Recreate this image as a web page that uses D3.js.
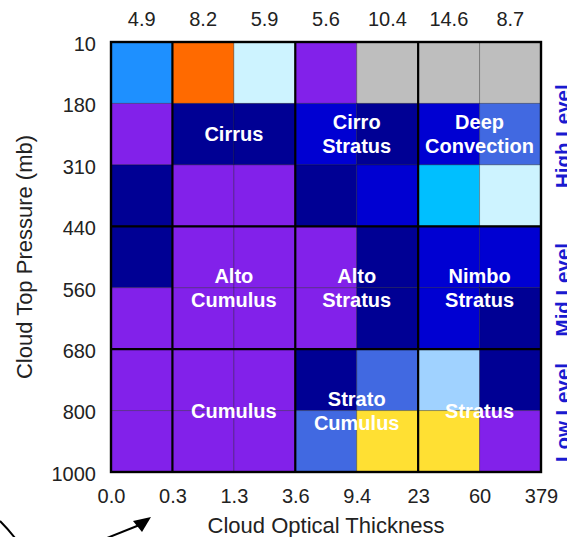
<!DOCTYPE html>
<html>
<head>
<meta charset="utf-8">
<script src="https://cdn.jsdelivr.net/npm/d3@7"></script>
<style>
  html, body { margin: 0; padding: 0; background: #fff; }
  svg { display: block; }
  text { font-family: "Liberation Sans", Arial, Helvetica, sans-serif; }
</style>
</head>
<body>
<svg id="chart" width="567" height="537"></svg>
<script>
// Optical-thickness bin edges (x) and cloud-top-pressure bin edges in mb (y)
const tauEdges = ["0.0", "0.3", "1.3", "3.6", "9.4", "23", "60", "379"];
const pressureEdges = ["10", "180", "310", "440", "560", "680", "800", "1000"];

// Column totals printed above each optical-thickness bin
const columnTotals = [4.9, 8.2, 5.9, 5.6, 10.4, 14.6, 8.7];

// Frequency class of every cell, rows from 10 mb down to 1000 mb
// 0 no data, 1..10 increasing frequency classes
const cellClass = [
  [5, 10, 8, 1, 0, 0, 0],
  [1, 2, 2, 3, 2, 3, 4],
  [2, 1, 1, 2, 3, 6, 8],
  [2, 1, 1, 1, 2, 3, 3],
  [1, 1, 1, 1, 2, 3, 2],
  [1, 1, 1, 2, 4, 7, 2],
  [1, 1, 1, 4, 9, 9, 1]
];
const classKeys = [0, 1, 2, 3, 4, 5, 6, 7, 8, 9, 10];

// Cloud type names, anchored on a tau edge and a pressure span
const cloudTypes = [
  { lines: ["Cirrus"],             tau: "1.3", p0: "180", p1: "310" },
  { lines: ["Cirro", "Stratus"],   tau: "9.4", p0: "180", p1: "310" },
  { lines: ["Deep", "Convection"], tau: "60",  p0: "180", p1: "310" },
  { lines: ["Alto", "Cumulus"],    tau: "1.3", p0: "560", p1: "560" },
  { lines: ["Alto", "Stratus"],    tau: "9.4", p0: "560", p1: "560" },
  { lines: ["Nimbo", "Stratus"],   tau: "60",  p0: "560", p1: "560" },
  { lines: ["Cumulus"],            tau: "1.3", p0: "800", p1: "800" },
  { lines: ["Strato", "Cumulus"],  tau: "9.4", p0: "800", p1: "800" },
  { lines: ["Stratus"],            tau: "60",  p0: "800", p1: "800" }
];

// Altitude groups along the right side
const levelNames = ["High Level", "Mid Level", "Low Level"];
const levelSpans = [["10", "440"], ["440", "680"], ["680", "1000"]];

// Edges drawn with a heavy rule
const tauGroupEdges = ["0.3", "3.6", "23"];
const pressureGroupEdges = ["440", "680"];

const svg = d3.select("#chart");
const margin = { left: 111, top: 42, right: 26, bottom: 65 };
const W = 567, H = 537;

const x = d3.scalePoint().domain(tauEdges).range([margin.left, W - margin.right]);
const y = d3.scalePoint().domain(pressureEdges).range([margin.top, H - margin.bottom]);

const palette = ["#bebebe", "#8221ea", "#000094", "#0000d2", "#4169e1",
                 "#1e90ff", "#00bfff", "#a0d2ff", "#cdf3ff", "#ffe033", "#ff6a00"];
const color = d3.scaleOrdinal().domain(classKeys).range(palette);

// Cells
const cells = [];
cellClass.forEach((row, r) => row.forEach((c, i) => cells.push({ r, i, c })));

svg.append("g").selectAll("rect").data(cells).join("rect")
  .attr("x", d => x(tauEdges[d.i]))
  .attr("y", d => y(pressureEdges[d.r]))
  .attr("width", d => x(tauEdges[d.i + 1]) - x(tauEdges[d.i]))
  .attr("height", d => y(pressureEdges[d.r + 1]) - y(pressureEdges[d.r]))
  .attr("fill", d => color(d.c))
  .attr("stroke", "rgba(0,0,0,0.28)")
  .attr("stroke-width", 1);

// Heavy group rules and frame
const rules = svg.append("g").attr("stroke", "#000").attr("stroke-width", 2.2);
rules.selectAll("line.v").data(tauGroupEdges).join("line").attr("class", "v")
  .attr("x1", d => x(d)).attr("x2", d => x(d))
  .attr("y1", y.range()[0]).attr("y2", y.range()[1]);
rules.selectAll("line.h").data(pressureGroupEdges).join("line").attr("class", "h")
  .attr("y1", d => y(d)).attr("y2", d => y(d))
  .attr("x1", x.range()[0]).attr("x2", x.range()[1]);
svg.append("rect")
  .attr("x", x.range()[0]).attr("y", y.range()[0])
  .attr("width", x.range()[1] - x.range()[0])
  .attr("height", y.range()[1] - y.range()[0])
  .attr("fill", "none").attr("stroke", "#000").attr("stroke-width", 2.4);

// Axes (labels only)
const axisFont = "20px";
const gx = svg.append("g")
  .attr("transform", `translate(0,${y.range()[1]})`)
  .call(d3.axisBottom(x).tickSize(0).tickPadding(17));
const gy = svg.append("g")
  .attr("transform", `translate(${x.range()[0]},0)`)
  .call(d3.axisLeft(y).tickSize(0).tickPadding(15));
[gx, gy].forEach(g => {
  g.select(".domain").remove();
  g.selectAll("text")
    .attr("font-size", axisFont)
    .attr("fill", "#222")
    .style("font-family", '"Liberation Sans", Arial, Helvetica, sans-serif');
});
gy.selectAll("text").attr("dy", "0.42em");

// Column totals
const colCenter = i => (x(tauEdges[i]) + x(tauEdges[i + 1])) / 2;
svg.append("g").selectAll("text").data(columnTotals).join("text")
  .attr("x", (d, i) => colCenter(i))
  .attr("y", margin.top - 16)
  .attr("text-anchor", "middle")
  .attr("font-size", axisFont)
  .attr("fill", "#222")
  .text(d => d.toFixed(1));

// Cloud type names
const lineGap = 24;
const labelG = svg.append("g")
  .attr("font-size", "20px").attr("font-weight", "bold")
  .attr("fill", "#fff").attr("text-anchor", "middle");
cloudTypes.forEach(t => {
  const cy = (y(t.p0) + y(t.p1)) / 2;
  const n = t.lines.length;
  const txt = labelG.append("text").attr("x", x(t.tau));
  t.lines.forEach((ln, k) => {
    txt.append("tspan")
      .attr("x", x(t.tau))
      .attr("y", cy + (k - (n - 1) / 2) * lineGap + 7)
      .text(ln);
  });
});

// Level names on the right
svg.append("g").selectAll("text").data(levelNames).join("text")
  .attr("transform", (d, i) => {
    const cy = (y(levelSpans[i][0]) + y(levelSpans[i][1])) / 2 + 2;
    return `translate(570,${cy}) rotate(-90)`;
  })
  .attr("text-anchor", "middle")
  .attr("font-size", "20.5px")
  .attr("font-weight", "bold")
  .attr("fill", "#1a1ad0")
  .text(d => d);

// Axis titles
svg.append("text")
  .attr("x", (x.range()[0] + x.range()[1]) / 2)
  .attr("y", 533)
  .attr("text-anchor", "middle")
  .attr("font-size", "22px")
  .attr("fill", "#222")
  .text("Cloud Optical Thickness");
svg.append("text")
  .attr("transform", `translate(32,${(y.range()[0] + y.range()[1]) / 2}) rotate(-90)`)
  .attr("text-anchor", "middle")
  .attr("font-size", "22px")
  .attr("fill", "#222")
  .text("Cloud Top Pressure (mb)");

// Pointer strokes at the lower left
const strokeG = svg.append("g").attr("stroke", "#000").attr("stroke-width", 2).attr("fill", "none");
strokeG.append("path").attr("d", "M0,521 Q8,529 15,538");
strokeG.append("path").attr("d", "M107,538 L142,524");
svg.append("path")
  .attr("d", "M151,517 L133,521 L142,532 Z")
  .attr("fill", "#000");
</script>
</body>
</html>
